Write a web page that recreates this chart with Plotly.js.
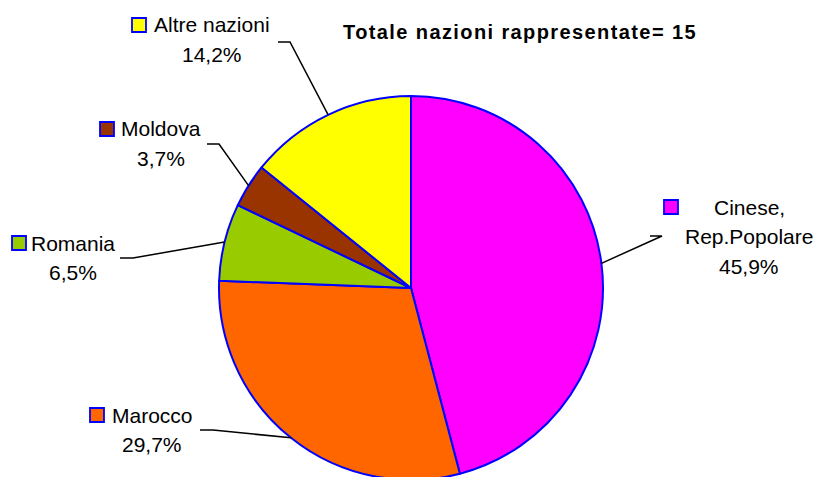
<!DOCTYPE html>
<html>
<head>
<meta charset="utf-8">
<script src="https://cdn.plot.ly/plotly-3.0.1.min.js"></script>
<style>
html,body{margin:0;padding:0;overflow:hidden;background:#fff;}
#chart{width:815px;height:481px;}
.gtitle{letter-spacing:1.4px;}
</style>
</head>
<body>
<div id="chart"></div>
<script>
// Data (pie order, clockwise from 12 o'clock)
const categories = ["Cinese, Rep.Popolare", "Marocco", "Romania", "Moldova", "Altre nazioni"];
const labelLines = [["Cinese,", "Rep.Popolare"], ["Marocco"], ["Romania"], ["Moldova"], ["Altre nazioni"]];
const percentages = [45.9, 29.7, 6.5, 3.7, 14.2];
const colors = ["#FF00FF", "#FF6600", "#99CC00", "#993300", "#FFFF00"];
const titleText = "Totale nazioni rappresentate= 15";

// Layout geometry (pixels)
const W = 815, H = 481;
const CX = 411, CY = 288, R = 192;
const px = x => x / W;
const py = y => 1 - y / H;

// Label placement: text centre x, first-line centre y, square left x, elbow point, horizontal end
const labelPos = [
  {tx: 749, ty: 207, sq: 664, elbow: [662, 236], end: [650, 236]},
  {tx: 152, ty: 415, sq: 90,  elbow: [213, 430], end: [200, 430]},
  {tx: 73,  ty: 243, sq: 12,  elbow: [133, 258], end: [120, 258]},
  {tx: 161, ty: 129, sq: 100, elbow: [219, 144], end: [207, 144]},
  {tx: 212, ty: 25,  sq: 132, elbow: [290, 42],  end: [278, 42]}
];
const lineGap = 29.5;
const fontFam = '"Liberation Sans", Arial, sans-serif';

const total = percentages.reduce((a, b) => a + b, 0);
const annotations = [];
const shapes = [];
let cum = 0;
percentages.forEach((v, i) => {
  const mid = (cum + v / 2) / total * 2 * Math.PI;
  cum += v;
  const ex = CX + R * Math.sin(mid);
  const ey = CY - R * Math.cos(mid);
  const p = labelPos[i];
  const lines = labelLines[i].concat([v.toFixed(1).replace('.', ',') + '%']);
  lines.forEach((t, k) => {
    annotations.push({
      x: px(p.tx), y: py(p.ty + k * lineGap), xref: 'paper', yref: 'paper',
      xanchor: 'center', yanchor: 'middle', showarrow: false, text: t,
      font: {family: fontFam, size: 21, color: '#000'}
    });
  });
  // legend key square
  shapes.push({
    type: 'rect', xref: 'paper', yref: 'paper',
    x0: px(p.sq), x1: px(p.sq + 14), y0: py(p.ty - 7), y1: py(p.ty + 7),
    fillcolor: colors[i], line: {color: '#0000FF', width: 1.8}
  });
  // leader line
  shapes.push({
    type: 'path', xref: 'paper', yref: 'paper',
    path: `M ${px(ex)} ${py(ey)} L ${px(p.elbow[0])} ${py(p.elbow[1])} L ${px(p.end[0])} ${py(p.end[1])}`,
    line: {color: '#000', width: 1.5}
  });
});

const trace = {
  type: 'pie',
  labels: categories,
  values: percentages,
  sort: false,
  direction: 'clockwise',
  rotation: 0,
  textinfo: 'none',
  hoverinfo: 'label+percent',
  marker: {colors: colors, line: {color: '#0000FF', width: 2}},
  domain: {x: [px(CX - R), px(CX + R)], y: [py(CY + R), py(CY - R)]},
  showlegend: false
};

const layout = {
  width: W, height: H,
  margin: {l: 0, r: 0, t: 0, b: 0},
  paper_bgcolor: '#fff',
  showlegend: false,
  title: {
    text: '<b>' + titleText + '</b>',
    x: px(520), xref: 'paper', xanchor: 'center',
    y: py(32), yref: 'paper', yanchor: 'middle',
    font: {family: fontFam, size: 20, color: '#000'}
  },
  annotations: annotations,
  shapes: shapes
};

Plotly.newPlot('chart', [trace], layout, {displayModeBar: false, staticPlot: true});
</script>
</body>
</html>
